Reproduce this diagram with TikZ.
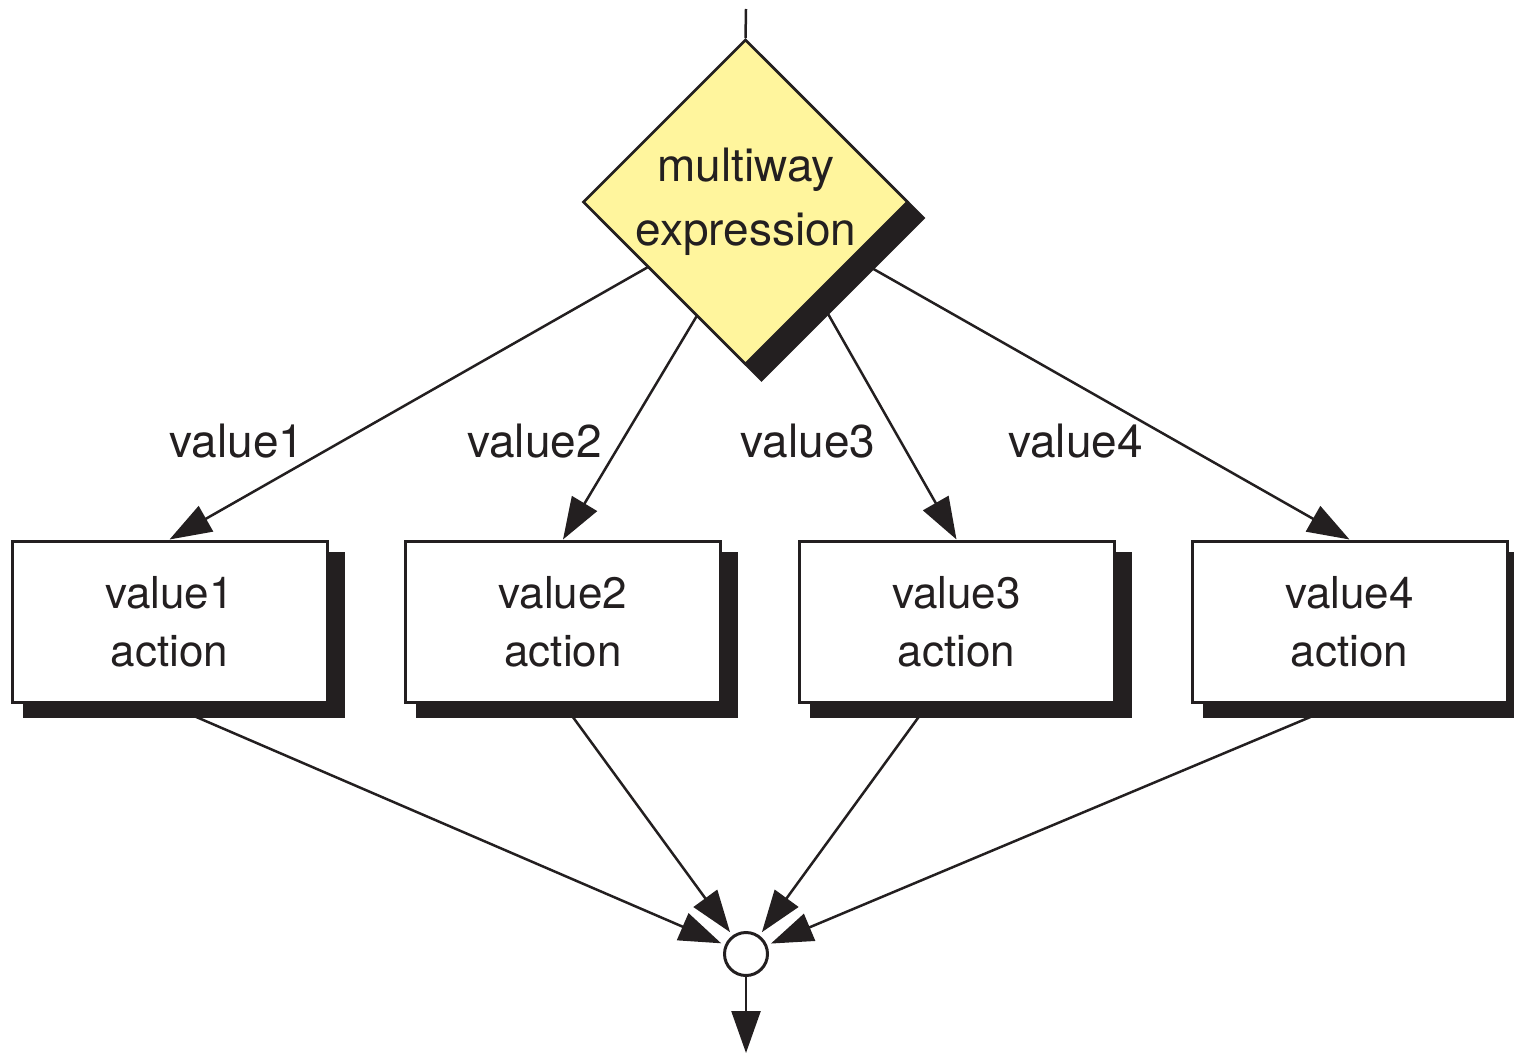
\documentclass[tikz,border=0pt]{standalone}
\usepackage{fontspec}
\setmainfont{TeX Gyre Heros}
\usetikzlibrary{shapes.geometric,arrows.meta,calc}
\definecolor{ink}{HTML}{231F20}
\definecolor{decision}{HTML}{FFF59D}
\pgfdeclarelayer{wires}
\pgfdeclarelayer{shades}
\pgfsetlayers{wires,shades,main}

\begin{document}
\begin{tikzpicture}[x=1pt,y=-1pt,
  wire/.style={draw=ink, line width=2.5pt},
  flow/.style={wire, -{Triangle[length=42pt,width=29pt]}},
  actionbox/.style={draw=ink, fill=white, line width=3pt, minimum width=315pt,
    minimum height=161pt, inner sep=0pt, align=center, text=ink,
    font=\fontsize{44}{58}\selectfont},
  decisionshape/.style={diamond, draw=ink, fill=decision, line width=2.6pt,
    minimum width=325pt, minimum height=325pt, inner sep=0pt},
  caselabel/.style={anchor=base, text=ink, inner sep=0pt,
    font=\fontsize{46}{60}\selectfont},
  junction/.style={circle, draw=ink, fill=white, line width=3pt,
    minimum size=43pt, inner sep=0pt},
  shade/.style={fill=ink}
]
\useasboundingbox (0,0) rectangle (1514,1054);

% decision diamond and its text
\node[decisionshape] (d) at (745.5,202) {};
\node[align=center, text=ink, inner sep=0pt,
      font=\fontsize{46}{64}\selectfont] (dtext) at (746,202)
      {multiway\\expression};

% action boxes
\node[actionbox] (b1) at (169.5,621.5) {value1\\action};
\node[actionbox] (b2) at (563,621.5)   {value2\\action};
\node[actionbox] (b3) at (956.5,621.5) {value3\\action};
\node[actionbox] (b4) at (1349.5,621.5) {value4\\action};

% join point and the free ends of the flow
\node[junction] (j) at (746,954) {};
\coordinate (in) at (746,9);
\coordinate (out) at (746,1053);

% case labels
\node[caselabel] (l1) at (237,457)    {value1};
\node[caselabel] (l2) at (534.5,457)  {value2};
\node[caselabel] (l3) at (808,457)    {value3};
\node[caselabel] (l4) at (1075.5,457) {value4};

% drop shadows
\begin{pgfonlayer}{shades}
  \fill[shade] ($(d.north)+(16,16)$) -- ($(d.east)+(16,16)$)
    -- ($(d.south)+(16,16)$) -- ($(d.west)+(16,16)$) -- cycle;
  \foreach \b in {b1,b2,b3,b4}
    \fill[shade] ($(\b.north west)+(12,12)$) rectangle ($(\b.south east)+(16,14)$);
\end{pgfonlayer}

% connectors
\begin{pgfonlayer}{wires}
  \draw[wire] (in) -- (d.north);
  \draw[flow] ($(d.west)!0.40!(d.south)$) -- (b1.north);
  \draw[flow] ($(d.west)!0.70!(d.south)$) -- (b2.north);
  \draw[flow] ($(d.south)!0.436!(d.east)$) -- (b3.north);
  \draw[flow] ($(d.south)!0.66!(d.east)$) -- (b4.north);

  \draw[flow, shorten >=4pt] ($(b1.south)+(-4.5,0)$) -- (j);
  \draw[flow, shorten >=4pt] ($(b2.south)+(0,0)$) -- (j);
  \draw[flow, shorten >=4pt] ($(b3.south)+(-28,0)$) -- (j);
  \draw[flow, shorten >=4pt] ($(b4.south)+(-7,0)$) -- (j);

  \draw[flow] (j) -- (out);
\end{pgfonlayer}
\end{tikzpicture}
\end{document}
